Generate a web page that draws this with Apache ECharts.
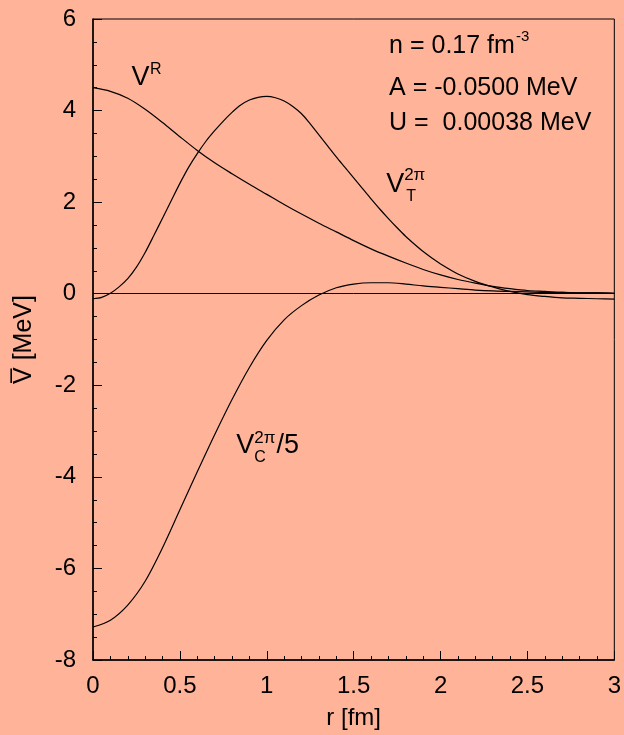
<!DOCTYPE html>
<html>
<head>
<meta charset="utf-8">
<script src="https://cdn.jsdelivr.net/npm/echarts@6/dist/echarts.min.js"></script>
<style>
  html, body { margin: 0; padding: 0; background: #ffb399; }
  #main { width: 624px; height: 735px; }
</style>
</head>
<body>
<div id="main"></div>
<script>
// radial grid (fm) used for V^R and V_C
var rCoarse = [0, 0.1, 0.2, 0.3, 0.4, 0.5, 0.6, 0.7, 0.8, 0.9, 1.0, 1.1, 1.2, 1.3, 1.4, 1.5,
               1.6, 1.7, 1.8, 1.9, 2.0, 2.1, 2.2, 2.3, 2.4, 2.5, 2.6, 2.7, 2.8, 2.9, 3.0];
var vRep = [4.50, 4.42, 4.27, 4.03, 3.74, 3.43, 3.13, 2.86, 2.62, 2.39, 2.17, 1.95, 1.74, 1.54, 1.35, 1.16,
            0.98, 0.82, 0.67, 0.53, 0.41, 0.31, 0.23, 0.16, 0.11, 0.07, 0.05, 0.03, 0.02, 0.02, 0.01];
var vCoul = [-7.28, -7.13, -6.80, -6.28, -5.55, -4.72, -3.89, -3.08, -2.31, -1.61, -1.02, -0.57, -0.26, -0.03, 0.13, 0.21,
             0.24, 0.24, 0.21, 0.17, 0.14, 0.11, 0.08, 0.06, 0.05, 0.04, 0.03, 0.03, 0.02, 0.02, 0.01];

// finer grid for the tensor curve
var rFine = [0, 0.05, 0.1, 0.15, 0.2, 0.25, 0.3, 0.35, 0.4, 0.45, 0.5, 0.55, 0.6, 0.65, 0.7, 0.75, 0.8, 0.85, 0.9, 0.95,
             1.0, 1.05, 1.1, 1.15, 1.2, 1.25, 1.3, 1.35, 1.4, 1.45, 1.5, 1.55, 1.6, 1.65, 1.7, 1.75, 1.8, 1.85, 1.9, 1.95,
             2.0, 2.1, 2.2, 2.3, 2.4, 2.5, 2.6, 2.7, 2.8, 2.9, 3.0];
var vTens = [-0.11, -0.08, 0.01, 0.15, 0.33, 0.58, 0.90, 1.27, 1.65, 2.03, 2.41, 2.76, 3.06, 3.33, 3.56, 3.77, 3.96, 4.12, 4.23, 4.29,
             4.31, 4.28, 4.21, 4.09, 3.93, 3.71, 3.47, 3.23, 2.99, 2.76, 2.53, 2.30, 2.07, 1.85, 1.64, 1.44, 1.25, 1.08, 0.92, 0.78,
             0.65, 0.43, 0.27, 0.15, 0.05, -0.02, -0.06, -0.09, -0.10, -0.11, -0.12];

var xTicks = { min: 0, max: 3, step: 0.5 };
var yTicks = { min: -8, max: 6, step: 2 };

var FONT = '"Liberation Sans", Arial, Helvetica, sans-serif';
var chart = echarts.init(document.getElementById('main'));

function pairs(xs, ys) {
  return xs.map(function (x, i) { return [x, ys[i]]; });
}

var curve = { color: '#000', width: 1.2 };

var option = {
  animation: false,
  backgroundColor: '#ffb399',
  grid: { left: 93, right: 8, top: 19, bottom: 72, show: true, borderColor: '#000', borderWidth: 1 },
  xAxis: {
    type: 'value', min: xTicks.min, max: xTicks.max, interval: xTicks.step,
    axisLine: { onZero: false, lineStyle: { color: '#000', width: 1.5 } },
    axisTick: { inside: true, length: 9, lineStyle: { color: '#000', width: 1 } },
    minorTick: { show: true, splitNumber: 5, length: 4, lineStyle: { color: '#000', width: 1 } },
    splitLine: { show: false },
    axisLabel: { color: '#000', fontSize: 24, fontFamily: FONT, margin: 14, showMaxLabel: true, showMinLabel: true },
    name: 'r [fm]', nameLocation: 'middle', nameGap: 46,
    nameTextStyle: { color: '#000', fontSize: 24, fontFamily: FONT }
  },
  yAxis: {
    type: 'value', min: yTicks.min, max: yTicks.max, interval: yTicks.step,
    axisLine: { onZero: false, lineStyle: { color: '#000', width: 1.5 } },
    axisTick: { inside: true, length: 9, lineStyle: { color: '#000', width: 1 } },
    minorTick: { show: true, splitNumber: 4, length: 4, lineStyle: { color: '#000', width: 1 } },
    splitLine: { show: false },
    axisLabel: { color: '#000', fontSize: 24, fontFamily: FONT, margin: 17 },
    name: 'V\u0305 [MeV]', nameLocation: 'middle', nameGap: 56, nameRotate: 90,
    nameTextStyle: { color: '#000', fontSize: 25, fontFamily: FONT }
  },
  series: [
    {
      name: 'VR', type: 'line', data: pairs(rCoarse, vRep), smooth: 0.3, showSymbol: false,
      lineStyle: curve, itemStyle: { color: '#000' },
      markLine: {
        silent: true, symbol: 'none', label: { show: false },
        lineStyle: { color: '#000', width: 1, type: 'solid' },
        data: [{ yAxis: 0 }]
      }
    },
    {
      name: 'VT', type: 'line', data: pairs(rFine, vTens), smooth: 0.3, showSymbol: false,
      lineStyle: curve, itemStyle: { color: '#000' }
    },
    {
      name: 'VC', type: 'line', data: pairs(rCoarse, vCoul), smooth: 0.3, showSymbol: false,
      lineStyle: curve, itemStyle: { color: '#000' }
    }
  ]
};
chart.setOption(option);

// text labels placed from data coordinates
var ctx = document.createElement('canvas').getContext('2d');
function textW(t, size) {
  ctx.font = size + 'px ' + FONT;
  return ctx.measureText(t).width;
}
function txt(x, baseY, t, size) {
  return {
    type: 'text', x: x, y: baseY - 0.36 * size, silent: true,
    style: { text: t, fontSize: size, fontFamily: FONT, fill: '#000', verticalAlign: 'middle', align: 'left' }
  };
}

var els = [];
var p;

// V^R
p = chart.convertToPixel({ gridIndex: 0 }, [0.221, 4.51]);
els.push(txt(p[0], p[1], 'V', 27));
els.push(txt(p[0] + textW('V', 27) + 0.5, p[1] - 12, 'R', 16));

// V_T^{2pi}
p = chart.convertToPixel({ gridIndex: 0 }, [1.687, 2.18]);
els.push(txt(p[0], p[1], 'V', 27));
els.push(txt(p[0] + textW('V', 27), p[1] - 12, '2\u03c0', 17));
els.push(txt(p[0] + textW('V', 27) + 2, p[1] + 8, 'T', 16));

// V_C^{2pi}/5
p = chart.convertToPixel({ gridIndex: 0 }, [0.825, -3.53]);
els.push(txt(p[0], p[1], 'V', 27));
els.push(txt(p[0] + textW('V', 27), p[1] - 11, '2\u03c0', 17));
els.push(txt(p[0] + textW('V', 27), p[1] + 8, 'C', 16));
els.push(txt(p[0] + textW('V', 27) + textW('2\u03c0', 17) + 1, p[1], '/5', 27));

// parameters
p = chart.convertToPixel({ gridIndex: 0 }, [1.704, 5.21]);
els.push(txt(p[0], p[1], 'n = 0.17 fm', 25));
els.push(txt(p[0] + textW('n = 0.17 fm', 25) + 1, p[1] - 13, '-3', 15));
p = chart.convertToPixel({ gridIndex: 0 }, [1.704, 4.29]);
els.push(txt(p[0], p[1], 'A = -0.0500 MeV', 25));
p = chart.convertToPixel({ gridIndex: 0 }, [1.704, 3.53]);
els.push(txt(p[0], p[1], 'U =  0.00038 MeV', 25));

chart.setOption({ graphic: { elements: els } });
</script>
</body>
</html>
